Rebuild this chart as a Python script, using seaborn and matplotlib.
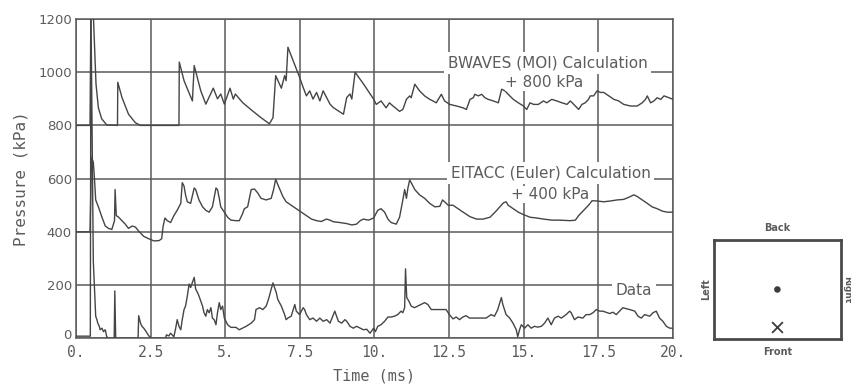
import numpy as np
import pandas as pd
import matplotlib
matplotlib.use("Agg")
import matplotlib.pyplot as plt
import matplotlib.transforms as mtransforms
import seaborn as sns

# ---------------- data ----------------
# BWAVES (MOI) calculation, raw kPa (plotted + 800 kPa)
bw_t = [0.0, 0.47, 0.50, 0.58, 0.62, 0.67, 0.75, 0.86, 1.03, 1.39, 1.40, 1.54, 1.76, 1.99, 2.16,
        3.45, 3.46, 3.62, 3.90, 3.96, 4.18, 4.35, 4.60, 4.74, 4.85, 4.97, 5.16, 5.27, 5.34,
        5.58, 5.92, 6.20, 6.48, 6.60, 6.69, 6.88, 6.99, 7.04, 7.10, 7.49, 7.61, 7.72, 7.83,
        7.94, 8.06, 8.17, 8.28, 8.51, 8.62, 8.96, 9.07, 9.18, 9.24, 9.35, 9.63, 9.97,
        10.06, 10.22, 10.39, 10.50, 10.62, 10.84, 10.95, 11.07, 11.18, 11.23, 11.35, 11.51,
        11.68, 11.85, 11.96, 12.07, 12.24, 12.35, 12.52, 12.75, 12.97, 13.08, 13.20, 13.31,
        13.36, 13.48, 13.59, 13.70, 13.81, 13.98, 14.15, 14.26, 14.37, 14.48, 14.65, 14.82,
        14.99, 15.10, 15.21, 15.33, 15.49, 15.66, 15.77, 15.94, 16.11, 16.28, 16.45, 16.56,
        16.73, 16.84, 16.95, 17.06, 17.17, 17.23, 17.34, 17.46, 17.57, 17.68, 17.85, 18.02,
        18.18, 18.35, 18.58, 18.80, 18.97, 19.08, 19.14, 19.25, 19.36, 19.47, 19.59, 19.70,
        19.87, 20.0]
bw_p = [0, 0, 450, 420, 300, 156, 66, 25, 2, 0, 162, 105, 42, 10, 0,
        0, 238, 168, 92, 225, 130, 80, 140, 100, 118, 80, 140, 99, 118,
        86, 54, 29, 6, 29, 187, 140, 187, 168, 294, 181, 143, 111, 130,
        99, 124, 92, 130, 80, 67, 42, 105, 118, 99, 200, 156, 99,
        79, 92, 66, 85, 73, 53, 60, 98, 111, 104, 155, 130,
        111, 98, 92, 85, 117, 92, 79, 73, 66, 60, 98, 104,
        117, 111, 117, 104, 98, 92, 85, 136, 130, 117, 98, 85,
        73, 60, 85, 79, 79, 92, 85, 98, 92, 85, 79, 92,
        73, 60, 79, 85, 98, 111, 111, 130, 124, 124, 111, 98,
        92, 79, 73, 73, 85, 98, 111, 85, 92, 104, 98, 111,
        104, 98]
BW_OFFSET = 800

# EITACC (Euler) calculation, raw kPa (plotted + 400 kPa)
eu_t = [0.0, 0.47, 0.52, 0.58, 0.62, 0.66, 0.75, 0.87, 0.98, 1.09, 1.20, 1.29, 1.31, 1.35,
        1.43, 1.54, 1.65, 1.76, 1.88, 1.99, 2.10, 2.27, 2.44, 2.61, 2.78, 2.87, 2.92, 2.98,
        3.06, 3.17, 3.28, 3.39, 3.51, 3.56, 3.62, 3.67, 3.73, 3.84, 3.96, 4.01, 4.12, 4.24,
        4.35, 4.46, 4.57, 4.69, 4.74, 4.80, 4.85, 4.97, 5.08, 5.19, 5.36, 5.47, 5.58, 5.64,
        5.75, 5.87, 5.98, 6.09, 6.20, 6.37, 6.54, 6.62, 6.69, 6.76, 6.93, 7.04, 7.21, 7.38,
        7.55, 7.72, 7.89, 8.06, 8.22, 8.39, 8.51, 8.62, 8.84, 9.07, 9.24, 9.40, 9.52, 9.63,
        9.80, 9.97, 10.11, 10.22, 10.34, 10.45, 10.56, 10.73, 10.84, 10.95, 11.01, 11.07,
        11.12, 11.18, 11.23, 11.35, 11.51, 11.68, 11.85, 12.02, 12.19, 12.28, 12.35, 12.47,
        12.63, 12.80, 12.97, 13.20, 13.42, 13.64, 13.87, 14.04, 14.20, 14.32, 14.41, 14.48,
        14.65, 14.82, 14.99, 15.21, 15.44, 15.66, 15.94, 16.22, 16.56, 16.73, 16.84, 17.01,
        17.17, 17.29, 17.46, 17.68, 17.90, 18.13, 18.35, 18.52, 18.69, 18.80, 18.97, 19.14,
        19.30, 19.47, 19.64, 19.81, 20.0]
eu_p = [0, 0, 280, 262, 198, 120, 94, 55, 22, 13, 9, 42, 159, 61,
        55, 42, 29, 13, 22, 18, 3, -17, -26, -34, -33, -26, 22, 52,
        42, 35, 61, 81, 107, 185, 172, 139, 113, 107, 165, 159, 120, 94,
        81, 74, 94, 165, 159, 126, 94, 74, 55, 44, 42, 42, 68, 87,
        94, 159, 161, 146, 126, 120, 126, 159, 198, 178, 133, 113, 100, 87,
        74, 61, 48, 42, 39, 48, 44, 38, 35, 31, 26, 29, 42, 48,
        44, 52, 81, 87, 74, 48, 35, 29, 55, 120, 159, 126,
        165, 195, 185, 159, 139, 126, 107, 94, 96, 120, 113, 100,
        100, 87, 74, 57, 48, 48, 55, 74, 94, 109, 113, 100,
        87, 74, 65, 55, 52, 48, 44, 44, 42, 44, 61, 81,
        100, 117, 116, 113, 116, 120, 122, 130, 139, 133, 120, 107,
        94, 87, 78, 74, 74]
EU_OFFSET = 400

# Measured data, kPa
da_t = [0.0, 0.48, 0.50, 0.58, 0.62, 0.66, 0.70, 0.73, 0.78, 0.81, 0.87, 0.92, 0.98, 1.03,
        1.09, 1.28, 1.30, 1.33, 2.08, 2.10, 2.16, 2.21, 2.27, 2.35, 2.44, 2.53, 3.00, 3.03,
        3.11, 3.17, 3.28, 3.34, 3.39, 3.45, 3.51, 3.56, 3.62, 3.67, 3.73, 3.79, 3.84, 3.90,
        3.96, 4.01, 4.07, 4.12, 4.24, 4.29, 4.35, 4.40, 4.46, 4.52, 4.57, 4.63, 4.69, 4.74,
        4.80, 4.85, 4.91, 4.97, 5.08, 5.19, 5.36, 5.47, 5.58, 5.70, 5.87, 5.98, 6.03, 6.15,
        6.26, 6.37, 6.43, 6.48, 6.54, 6.60, 6.65, 6.71, 6.76, 6.88, 6.99, 7.04, 7.10, 7.21,
        7.33, 7.38, 7.49, 7.61, 7.66, 7.72, 7.83, 7.94, 8.06, 8.17, 8.28, 8.40, 8.51, 8.67,
        8.79, 8.90, 9.01, 9.07, 9.18, 9.29, 9.40, 9.52, 9.63, 9.74, 9.85, 9.97, 10.03,
        10.11, 10.22, 10.34, 10.45, 10.56, 10.67, 10.78, 10.89, 10.95, 11.01, 11.04, 11.08,
        11.15, 11.23, 11.34, 11.45, 11.56, 11.68, 11.79, 11.90, 12.40, 12.51, 12.63, 12.74,
        12.85, 12.96, 13.07, 13.18, 13.74, 13.91, 14.02, 14.13, 14.25, 14.30, 14.41, 14.53,
        14.64, 14.75, 14.80, 14.86, 14.92, 15.03, 15.14, 15.25, 15.36, 15.47, 15.59, 15.70,
        15.81, 15.92, 16.03, 16.15, 16.26, 16.42, 16.54, 16.59, 16.70, 16.82, 16.98, 17.09,
        17.21, 17.32, 17.43, 17.54, 17.65, 17.88, 17.99, 18.10, 18.21, 18.32, 18.44, 18.55,
        18.72, 18.83, 18.94, 19.05, 19.22, 19.33, 19.44, 19.55, 19.66, 19.78, 19.89, 20.0]
da_p = [8, 8, 1250, 290, 185, 83, 70, 57, 45, 32, 38, 25, 32, 6,
        0, 0, 178, 0, 0, 85, 57, 45, 38, 25, 9, 0, 0, 13,
        9, 19, 6, 38, 70, 45, 32, 70, 108, 121, 159, 204, 191, 210,
        229, 185, 172, 159, 121, 96, 83, 108, 96, 115, 76, 70, 51, 96,
        134, 108, 121, 76, 51, 41, 41, 32, 38, 45, 57, 70, 108, 115,
        108, 121, 140, 159, 185, 208, 191, 172, 146, 121, 89, 70, 76, 83,
        127, 102, 89, 115, 108, 89, 70, 76, 64, 76, 64, 70, 57, 102,
        64, 57, 70, 64, 45, 38, 45, 38, 32, 34, 19, 38, 25,
        45, 51, 64, 80, 80, 83, 89, 102, 96, 115, 261, 153,
        140, 121, 115, 121, 127, 134, 127, 108, 108, 89, 73, 80,
        70, 80, 85, 76, 76, 89, 83, 108, 153, 127, 89, 76,
        57, 32, 6, 32, 51, 38, 51, 38, 45, 42, 45, 57,
        76, 51, 76, 83, 76, 89, 102, 96, 70, 80, 76, 89,
        89, 96, 108, 102, 102, 93, 98, 89, 102, 115, 111, 108,
        102, 83, 76, 89, 83, 96, 102, 76, 64, 45, 38, 38]

x_ticks = [0, 2.5, 5, 7.5, 10, 12.5, 15, 17.5, 20]
x_ticklabels = ["0.", "2.5", "5.", "7.5", "10.", "12.5", "15.", "17.5", "20."]
y_ticks = [0, 200, 400, 600, 800, 1000, 1200]

# ---------------- style ----------------
sns.set_theme(style="white")
plt.rcParams["font.family"] = ["DejaVu Sans"]

LINE = "#454545"
GRID = "#5a5a5a"
TXT = "#5c5c5c"
MONO = "DejaVu Sans Mono"

fig = plt.figure(figsize=(8.51, 3.86), dpi=100)
ax = fig.add_axes([0.0893, 0.1236, 0.7015, 0.8272])

df_bw = pd.DataFrame({"t": bw_t, "p": np.array(bw_p) + BW_OFFSET})
df_eu = pd.DataFrame({"t": eu_t, "p": np.array(eu_p) + EU_OFFSET})
df_da = pd.DataFrame({"t": da_t, "p": da_p})

for d in (df_bw, df_eu, df_da):
    sns.lineplot(data=d, x="t", y="p", ax=ax, estimator=None, sort=False,
                 color=LINE, linewidth=1.0, zorder=3)

ax.set_xlim(0, 20)
ax.set_ylim(0, 1200)
ax.set_xticks(x_ticks)
ax.set_xticklabels(x_ticklabels, fontfamily=MONO, fontsize=10.5, color=TXT)
ax.set_yticks(y_ticks)
ax.set_yticklabels([str(v) for v in y_ticks], fontsize=9.5, color=TXT)
ax.tick_params(axis="both", length=0)
ax.tick_params(axis="y", pad=3)
ax.tick_params(axis="x", pad=5)
# lift the "0" y label slightly so it clears the "0." x label
ylab0 = ax.get_yticklabels()[0]
ylab0.set_transform(ylab0.get_transform() +
                    mtransforms.ScaledTranslation(0, 3 / 72, fig.dpi_scale_trans))
ax.grid(True, color=GRID, linewidth=1.1, zorder=1)
ax.set_axisbelow(True)
for s in ax.spines.values():
    s.set_color(GRID)
    s.set_linewidth(1.1)

ax.set_xlabel("Time (ms)", fontfamily=MONO, fontsize=11, color=TXT, labelpad=6)
ax.set_ylabel("Pressure (kPa)", fontfamily=MONO, fontsize=11.5, color=TXT, labelpad=7)

box = dict(facecolor="white", edgecolor="none", pad=2.5)
ax.text(15.8, 1035, "BWAVES (MOI) Calculation", ha="center", va="center",
        fontsize=11, color=TXT, bbox=box, zorder=5)
ax.text(15.7, 962, "+ 800 kPa", ha="center", va="center",
        fontsize=11, color=TXT, bbox=dict(facecolor="white", edgecolor="none", pad=0.5), zorder=5)
ax.text(15.9, 621, "EITACC (Euler) Calculation", ha="center", va="center",
        fontsize=11, color=TXT, bbox=box, zorder=5)
ax.text(15.9, 540, "+ 400 kPa", ha="center", va="center",
        fontsize=11, color=TXT, bbox=dict(facecolor="white", edgecolor="none", pad=0.5), zorder=5)
ax.text(18.7, 178, "Data", ha="center", va="center",
        fontsize=11, color=TXT, bbox=box, zorder=5)

# ---------------- small location inset ----------------
ax2 = fig.add_axes([0.839, 0.1218, 0.149, 0.2565])
ax2.set_xlim(0, 1)
ax2.set_ylim(0, 1)
ax2.set_xticks([])
ax2.set_yticks([])
for s in ax2.spines.values():
    s.set_color("#4a4a4a")
    s.set_linewidth(2.0)
sns.scatterplot(x=[0.5], y=[0.5], ax=ax2, color="#3c3c3c", s=22, edgecolor="none")
sns.scatterplot(x=[0.5], y=[0.12], ax=ax2, color="#3c3c3c", marker="x", s=60, linewidth=1.3)
ax2.text(0.5, 1.12, "Back", transform=ax2.transAxes, ha="center", va="center",
         fontsize=7, fontweight="bold", color=TXT)
ax2.text(0.5, -0.13, "Front", transform=ax2.transAxes, ha="center", va="center",
         fontsize=7, fontweight="bold", color=TXT)
ax2.text(-0.06, 0.5, "Left", transform=ax2.transAxes, ha="center", va="center",
         fontsize=7, fontweight="bold", color=TXT, rotation=90)
ax2.text(1.045, 0.5, "Right", transform=ax2.transAxes, ha="center", va="center",
         fontsize=6.5, fontweight="bold", color=TXT, rotation=-90)

fig.savefig("out.png", dpi=100)
